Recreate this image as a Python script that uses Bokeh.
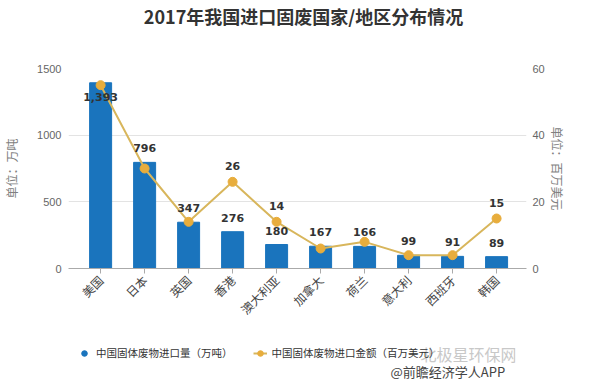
from math import pi
from bokeh.plotting import figure
from bokeh.layouts import column
from bokeh.models import (ColumnDataSource, Range1d, LinearAxis, FixedTicker,
                          Legend, LegendItem, Label)
from bokeh.core.properties import value
from bokeh.embed import file_html
from bokeh.resources import INLINE

# ---- data ----
regions = ["美国", "日本", "英国", "香港", "澳大利亚", "加拿大", "荷兰", "意大利", "西班牙", "韩国"]
volume = [1393, 796, 347, 276, 180, 167, 166, 99, 91, 89]          # 万吨
amount = [55, 30, 14, 26, 14, 6, 8, 4, 4, 15]                      # 百万美元
amount_label_shown = [False, False, False, True, True, False, False, False, False, True]
vol_ticks = [0, 500, 1000, 1500]
amt_ticks = [0, 20, 40, 60]

title_text = "2017年我国进口固废国家/地区分布情况"
vol_name = "中国固体废物进口量（万吨）"
amt_name = "中国固体废物进口金额（百万美元）"
left_title = "单位：万吨"
right_title = "单位：百万美元"
watermark1 = "北极星环保网"
watermark2 = "@前瞻经济学人APP"

CJK = "Noto Sans CJK SC"
BAR = "#1a74bd"
LINE = "#d8b65c"
DOT = "#e8ad3c"

vol_max = vol_ticks[-1]
amt_max = amt_ticks[-1]
xs = list(range(len(regions)))

bar_src = ColumnDataSource(dict(
    x=xs, top=volume,
    txt=[f"{v:,}" for v in volume],
    yoff=[14 if v > 0.9 * vol_max else -14 for v in volume],
))
amt_src = ColumnDataSource(dict(x=xs, y=amount))
amt_lbl_src = ColumnDataSource(dict(
    x=[x for x, s in zip(xs, amount_label_shown) if s],
    y=[a for a, s in zip(amount, amount_label_shown) if s],
    txt=[str(a) for a, s in zip(amount, amount_label_shown) if s],
))


def strip(h):
    f = figure(width=574, height=h, output_backend="svg", toolbar_location=None,
               x_axis_type=None, y_axis_type=None, x_range=Range1d(0, 1),
               y_range=Range1d(0, 1), min_border=0, min_border_left=57)
    f.outline_line_color = None
    f.grid.grid_line_color = None
    return f


# ---------------- header (title) ----------------
hd = strip(58)
hd.add_layout(Label(x=235, y=43, x_units="screen", y_units="screen", text=title_text,
                    text_align="center", text_baseline="middle",
                    text_font=CJK, text_font_size="18px", text_font_style="bold",
                    text_color="#333333"))

# ---------------- main chart ----------------
p = figure(frame_width=458, frame_height=200, output_backend="svg", toolbar_location=None,
           x_range=Range1d(-0.73, len(regions) - 0.32), y_range=Range1d(0, vol_max),
           min_border_left=57, min_border_right=59, min_border_top=10, min_border_bottom=61)
p.extra_y_ranges = {"amt": Range1d(0, amt_max)}
p.outline_line_color = None
p.background_fill_color = "white"

p.vbar(x="x", top="top", width=0.5, source=bar_src, color=BAR)
p.line(x="x", y="y", source=amt_src, y_range_name="amt", line_color=LINE, line_width=2)
p.scatter(x="x", y="y", source=amt_src, y_range_name="amt", size=9,
          fill_color=DOT, line_color=DOT)

p.text(x="x", y="top", text="txt", source=bar_src, y_offset="yoff",
       text_align="center", text_baseline="middle",
       text_font=value("DejaVu Sans"), text_font_style="bold",
       text_font_size="11px", text_color="#333333")
p.text(x="x", y="y", text="txt", source=amt_lbl_src, y_range_name="amt", y_offset=-16,
       text_align="center", text_baseline="middle",
       text_font=value("DejaVu Sans"), text_font_style="bold",
       text_font_size="11px", text_color="#333333")

xa = p.xaxis[0]
xa.ticker = FixedTicker(ticks=xs)
xa.major_label_overrides = {i: r for i, r in enumerate(regions)}
xa.major_label_orientation = pi / 4
xa.major_label_text_font = CJK
xa.major_label_text_font_size = "12px"
xa.major_label_text_color = "#444444"
xa.axis_line_color = "#aaaaaa"
xa.major_tick_line_color = "#aaaaaa"
xa.major_tick_out = 5
xa.major_tick_in = 0
xa.minor_tick_line_color = None
xa.major_label_standoff = 4

ya = p.yaxis[0]
ya.ticker = FixedTicker(ticks=vol_ticks)
ya.axis_line_color = None
ya.major_tick_line_color = None
ya.minor_tick_line_color = None
ya.major_label_text_font = "Liberation Sans"
ya.major_label_text_font_size = "11px"
ya.major_label_text_color = "#666666"
ya.major_label_standoff = 1
ya.axis_label = left_title
ya.axis_label_text_font = CJK
ya.axis_label_text_font_size = "12px"
ya.axis_label_text_font_style = "normal"
ya.axis_label_text_color = "#808080"
ya.axis_label_standoff = 14

ra = LinearAxis(y_range_name="amt", ticker=FixedTicker(ticks=amt_ticks))
ra.axis_line_color = None
ra.major_tick_line_color = None
ra.minor_tick_line_color = None
ra.major_label_text_font = "Liberation Sans"
ra.major_label_text_font_size = "11px"
ra.major_label_text_color = "#666666"
ra.major_label_standoff = 0
ra.axis_label = right_title
ra.axis_label_text_font = CJK
ra.axis_label_text_font_size = "12px"
ra.axis_label_text_font_style = "normal"
ra.axis_label_text_color = "#808080"
ra.axis_label_standoff = 1
p.add_layout(ra, "right")

p.xgrid.grid_line_color = None
p.ygrid.grid_line_color = "#e3e3e3"
p.ygrid.ticker = FixedTicker(ticks=vol_ticks)

# ---------------- legend strip ----------------
lg = strip(50)
nan = float("nan")
vol_icon = lg.scatter(x=[nan], y=[nan], size=9, fill_color=BAR, line_color=BAR)
amt_line_icon = lg.line(x=[nan, nan], y=[nan, nan], line_color=LINE, line_width=2)
amt_dot_icon = lg.scatter(x=[nan], y=[nan], size=8, fill_color=DOT, line_color=DOT)
legend = Legend(items=[LegendItem(label=vol_name, renderers=[vol_icon]),
                       LegendItem(label=amt_name, renderers=[amt_line_icon, amt_dot_icon])],
                orientation="horizontal", location=(9, 19),
                label_text_font=CJK, label_text_font_size="10.5px", label_text_color="#333333",
                glyph_width=14, glyph_height=14, spacing=20, label_standoff=5,
                padding=5, margin=0, border_line_color=None, background_fill_alpha=0)
lg.add_layout(legend, "center")

lg.add_layout(Label(x=352, y=26, x_units="screen", y_units="screen", text=watermark1,
                    text_baseline="middle",
                    text_font=CJK, text_font_size="16px", text_color="#c8c8c8"))
lg.add_layout(Label(x=322, y=8, x_units="screen", y_units="screen", text=watermark2,
                    text_baseline="middle",
                    text_font=CJK, text_font_size="13px", text_color="#444444"))

layout = column(hd, p, lg, spacing=0)
open("out.html", "w").write(file_html(layout, INLINE))
